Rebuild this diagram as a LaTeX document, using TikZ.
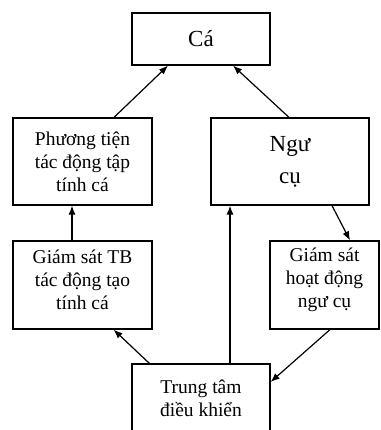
\documentclass[tikz,border=0pt]{standalone}
\usepackage{fontspec}
\setmainfont{Liberation Serif}
\usepackage{tikz}
\usetikzlibrary{arrows.meta}

\tikzset{
	box/.style={draw=black, line width=1.2pt, align=center, inner sep=0pt,
		font=\fontsize{19.5}{23}\selectfont},
	link/.style={-{Latex[length=9pt,width=7pt]}, line width=1.2pt}
}

\begin{document}
\begin{tikzpicture}[x=1pt, y=-1pt]
	\useasboundingbox (0,0) rectangle (380,430);
	% boxes
	\node[box, minimum width=138pt, minimum height=52pt, font=\fontsize{23}{28}\selectfont] (ca) at (201,39) {Cá};
	\node[box, minimum width=139pt, minimum height=87pt] (phuongtien) at (82.5,161.5) {Phương tiện\\tác động tập\\tính cá};
	\node[box, minimum width=158pt, minimum height=87pt, font=\fontsize{23}{32}\selectfont] (ngucu) at (290,161.5) {Ngư\\cụ};
	\node[box, minimum width=139pt, minimum height=88pt] (giamsattb) at (82.5,285) {};
	\node[font=\fontsize{19.5}{23}\selectfont, align=center] (giamsattbtext) at (82.5,280) {Giám sát TB\\tác động tạo\\tính cá};
	\node[box, minimum width=109pt, minimum height=88pt] (giamsathd) at (324.5,285) {};
	\node[font=\fontsize{19.5}{23}\selectfont, align=center] (giamsathdtext) at (324.5,280) {Giám sát\\hoạt động\\ngư cụ};
	\node[box, minimum width=138pt, minimum height=68pt] (trungtam) at (201,398) {Trung tâm\\điều khiển};
	% arrows
	\draw[link] ([xshift=31.5pt]phuongtien.north) -- ([xshift=-33pt]ca.south);
	\draw[link] ([xshift=-1pt]ngucu.north) -- ([xshift=32pt]ca.south);
	\draw[link] ([xshift=-10.5pt]giamsattb.north) -- ([xshift=-10.5pt]phuongtien.south);
	\draw[link] ([xshift=29pt]trungtam.north) -- ([xshift=-60pt]ngucu.south);
	\draw[link] ([xshift=18pt]trungtam.north west) -- ([xshift=-39pt]giamsattb.south east);
	\draw[link] ([xshift=42pt]ngucu.south) -- ([xshift=25.5pt]giamsathd.north);
	\draw[link] ([xshift=5.5pt]giamsathd.south) -- ([yshift=16pt]trungtam.east);
\end{tikzpicture}
\end{document}
